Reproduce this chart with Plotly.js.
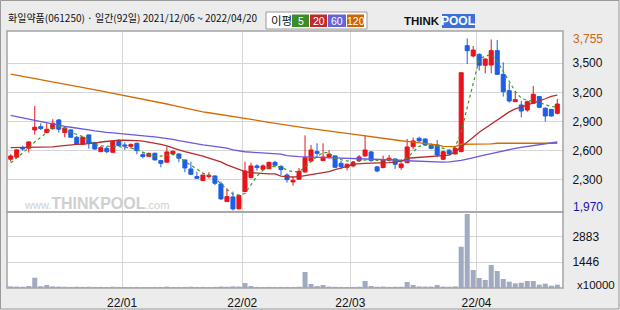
<!DOCTYPE html>
<html>
<head>
<meta charset="utf-8">
<script src="https://cdn.plot.ly/plotly-3.0.1.min.js"></script>
<style>
html,body{margin:0;padding:0;background:#ececec;}
#chart{width:620px;height:310px;}
</style>
</head>
<body>
<div id="chart"></div>
<script>
// ---- data (price in KRW, volume in x10000 shares) ----
const openP = [2513,2534,2632,2626,2814,2848,2787,2828,2917,2787,2814,2739,2667,2763,2684,2591,2625,2584,2701,2660,2646,2677,2560,2543,2574,2499,2482,2567,2567,2506,2413,2334,2293,2334,2341,2259,2077,2125,2002,2180,2324,2444,2410,2416,2481,2437,2351,2279,2307,2382,2495,2591,2499,2536,2547,2471,2430,2444,2499,2547,2588,2434,2427,2502,2516,2427,2478,2642,2728,2721,2660,2660,2512,2601,2567,2591,3681,3575,3592,3479,3482,3630,3386,3218,3105,3071,3019,3088,3157,3037,3026,2985];
const highP = [2565,2615,2653,2698,3061,2883,2883,2924,2927,2848,2824,2752,2745,2766,2694,2649,2649,2700,2721,2687,2677,2684,2591,2584,2581,2506,2642,2601,2574,2506,2488,2385,2351,2379,2348,2283,2214,2180,2146,2488,2478,2461,2461,2488,2495,2454,2368,2331,2423,2759,2660,2677,2677,2608,2553,2495,2471,2495,2557,2759,2598,2444,2550,2557,2519,2482,2721,2735,2745,2728,2677,2711,2601,2608,2642,3403,3755,3677,3602,3551,3745,3739,3510,3294,3215,3112,3115,3266,3164,3047,3030,3133];
const lowP  = [2488,2523,2601,2581,2766,2814,2780,2814,2787,2739,2735,2660,2660,2622,2608,2591,2574,2581,2643,2608,2625,2564,2523,2536,2499,2430,2478,2553,2482,2379,2351,2314,2293,2314,2245,2094,2077,1985,2002,2173,2317,2396,2403,2410,2430,2351,2272,2241,2300,2375,2482,2529,2495,2519,2423,2410,2396,2430,2488,2540,2488,2379,2420,2488,2413,2403,2471,2615,2694,2649,2615,2533,2506,2557,2564,2584,3492,3561,3424,3396,3396,3379,3157,3095,3105,2944,3002,3081,3037,2900,2951,2975];
const closeP= [2547,2609,2619,2691,2842,2828,2821,2883,2822,2835,2739,2667,2739,2678,2619,2632,2591,2694,2653,2649,2663,2601,2540,2571,2506,2471,2588,2595,2523,2423,2358,2317,2351,2348,2266,2105,2128,2002,2139,2392,2444,2427,2444,2481,2451,2406,2303,2296,2389,2529,2608,2574,2536,2564,2430,2437,2461,2478,2536,2608,2499,2392,2506,2523,2461,2464,2639,2701,2701,2660,2625,2557,2591,2567,2622,3403,3630,3636,3479,3544,3630,3386,3208,3112,3126,3009,3105,3181,3047,2958,2958,3081];
const volume = [90,80,70,110,578,100,168,90,80,70,60,70,60,70,60,60,50,70,60,50,50,60,50,50,60,60,80,50,50,60,70,60,60,50,60,80,70,90,80,280,110,60,50,60,50,60,60,50,70,898,224,110,168,80,70,60,50,60,70,393,110,70,80,60,70,70,337,168,90,80,80,168,80,70,90,2318,4150,1010,561,449,1290,954,505,355,262,299,393,393,187,243,131,187];
// moving averages
const ma5   = [2475,2525,2580,2630,2690,2740,2790,2835,2850,2830,2790,2770,2745,2710,2665,2650,2650,2648,2643,2635,2628,2610,2585,2560,2545,2545,2555,2565,2530,2490,2450,2410,2370,2350,2320,2260,2200,2155,2145,2160,2250,2340,2400,2435,2440,2435,2400,2385,2385,2430,2490,2540,2580,2580,2520,2505,2495,2488,2492,2505,2508,2500,2510,2505,2495,2505,2523,2590,2645,2660,2655,2643,2625,2608,2640,2790,3045,3300,3540,3575,3590,3520,3420,3310,3210,3140,3118,3110,3100,3072,3056,3050];
const ma20  = [2633,2633,2633,2633,2633,2633,2635,2640,2648,2655,2660,2665,2668,2672,2678,2690,2698,2705,2708,2708,2708,2705,2700,2690,2678,2665,2650,2626,2608,2591,2578,2564,2545,2525,2506,2485,2455,2432,2410,2386,2375,2369,2365,2362,2362,2340,2334,2330,2334,2345,2355,2362,2372,2385,2405,2420,2440,2462,2470,2471,2472,2472,2474,2478,2485,2490,2523,2528,2533,2538,2545,2548,2552,2556,2590,2643,2690,2740,2790,2832,2880,2925,2965,3000,3030,3048,3070,3092,3112,3135,3160,3172];
const ma60  = [2965,2955,2938,2925,2912,2900,2885,2870,2860,2850,2842,2835,2825,2815,2805,2795,2790,2785,2780,2775,2768,2760,2755,2748,2742,2735,2728,2718,2705,2692,2680,2670,2660,2652,2645,2638,2626,2610,2598,2590,2585,2580,2576,2572,2568,2566,2550,2542,2540,2537,2535,2533,2530,2530,2529,2527,2525,2524,2522,2520,2518,2518,2516,2512,2505,2500,2497,2493,2490,2488,2485,2483,2483,2485,2490,2500,2515,2530,2548,2557,2570,2585,2598,2612,2625,2635,2645,2655,2662,2670,2684,2690];
const ma120 = [3388,3376,3365,3353,3342,3330,3319,3307,3296,3284,3273,3261,3250,3238,3227,3215,3204,3192,3181,3169,3158,3146,3135,3123,3109,3095,3081,3067,3053,3039,3025,3010,3001,2991,2982,2973,2963,2954,2944,2935,2924,2914,2903,2892,2882,2871,2860,2850,2843,2836,2828,2821,2814,2805,2796,2787,2778,2769,2760,2751,2742,2733,2724,2715,2709,2703,2697,2690,2684,2678,2672,2660,2646,2643,2643,2667,2667,2667,2667,2667,2670,2677,2677,2677,2677,2677,2677,2677,2677,2677,2677,2677];
const monthLabels = ['22/01','22/02','22/03','22/04'];
const monthStartIdx = [19,39,57,78];
const priceTicks = [2300,2600,2900,3200,3500];
const volTicks = [1446,2883];
const maxPriceLabel = '3,755';
const minPriceLabel = '1,970';
const title = '화일약품(061250) · 일간(92일) 2021/12/06 ~ 2022/04/20';

// ---- layout helpers (pixel -> paper) ----
const W = 620, H = 310, ML = 7, MR = 57, MT = 31, MB = 22;
const PW = W - ML - MR, PH = H - MT - MB;
const px = v => (v - ML) / PW;
const py = v => (H - MB - v) / PH;
const split = py(212);

const idx = closeP.map((_, i) => i);
const fmt = v => v.toLocaleString('en-US');

const RED = '#e8141c', BLUE = '#1c5fe6';
const traces = [
  {type:'candlestick', x: idx, open: openP, high: highP, low: lowP, close: closeP,
   xaxis:'x', yaxis:'y', whiskerwidth:0,
   increasing:{line:{color:RED, width:1}, fillcolor:RED},
   decreasing:{line:{color:BLUE, width:1}, fillcolor:BLUE},
   showlegend:false, hoverinfo:'skip'},
  {type:'scatter', mode:'lines', x: idx, y: ma120, xaxis:'x', yaxis:'y', line:{color:'#d46a00', width:1.3}, showlegend:false},
  {type:'scatter', mode:'lines', x: idx, y: ma60, xaxis:'x', yaxis:'y', line:{color:'#6a58e0', width:1.3}, showlegend:false},
  {type:'scatter', mode:'lines', x: idx, y: ma20, xaxis:'x', yaxis:'y', line:{color:'#b82c2c', width:1.3}, showlegend:false},
  {type:'scatter', mode:'lines', x: idx, y: ma5, xaxis:'x', yaxis:'y', line:{color:'#3c9a24', width:1.2, dash:'dot'}, showlegend:false},
  {type:'bar', x: idx, y: volume, xaxis:'x', yaxis:'y2', marker:{color:'#a2aac2', line:{width:0}}, width:0.84, showlegend:false}
];

const tickFont = {family:'"Liberation Sans", Arial, sans-serif', size:12, color:'#111'};
const boxes = [
  {x0:292, x1:309, c:'#3c8c28', t:'5'},
  {x0:310, x1:327, c:'#c0282a', t:'20'},
  {x0:328, x1:346, c:'#6464d8', t:'60'},
  {x0:347, x1:364, c:'#d06400', t:'120'}
];

const shapes = [
  {type:'rect', xref:'paper', yref:'paper', x0:px(0.5), x1:px(619), y0:py(309), y1:py(0.5), line:{color:'#9a9a9a', width:1}, layer:'below'},
  {type:'rect', xref:'paper', yref:'paper', x0:0, x1:1, y0:split, y1:1, line:{color:'#a4a4a4', width:1.5}},
  {type:'rect', xref:'paper', yref:'paper', x0:0, x1:1, y0:0, y1:split, line:{color:'#a4a4a4', width:1.5}},
  {type:'rect', xref:'paper', yref:'paper', x0:px(266), x1:px(367), y0:py(29), y1:py(12), fillcolor:'#ffffff', line:{color:'#9a9a9a', width:1}},
  {type:'rect', xref:'paper', yref:'paper', x0:px(442), x1:px(475), y0:py(28), y1:py(14), fillcolor:'#3a70d8', line:{width:0}}
];
boxes.forEach(b => shapes.push({type:'rect', xref:'paper', yref:'paper', x0:px(b.x0), x1:px(b.x1), y0:py(27), y1:py(14.5), fillcolor:b.c, line:{width:0}}));

const annotations = [
  {xref:'paper', yref:'paper', x:px(6), y:py(18), xanchor:'left', yanchor:'middle', showarrow:false,
   text:title, font:{family:'"Noto Sans CJK KR", sans-serif', size:10, color:'#111'}},
  {xref:'paper', yref:'paper', x:px(269), y:py(20.5), xanchor:'left', yanchor:'middle', showarrow:false,
   text:'이평', font:{family:'"Noto Sans CJK KR", sans-serif', size:11.5, color:'#111'}},
  {xref:'paper', yref:'paper', x:px(442), y:py(21), xanchor:'right', yanchor:'middle', showarrow:false,
   text:'<b>THINK</b>', font:{family:'"Liberation Sans", Arial, sans-serif', size:11.5, color:'#111'}},
  {xref:'paper', yref:'paper', x:px(458.5), y:py(21), xanchor:'center', yanchor:'middle', showarrow:false,
   text:'<b>POOL</b>', font:{family:'"Liberation Sans", Arial, sans-serif', size:12, color:'#ffffff'}},
  {xref:'paper', yref:'paper', x:px(22), y:py(203), xanchor:'left', yanchor:'middle', showarrow:false,
   text:'www.<span style="font-size:16px;font-weight:bold">THINKPOOL</span>.com',
   font:{family:'"Liberation Sans", Arial, sans-serif', size:11, color:'#cfcfcf'}},
  {xref:'paper', yref:'paper', x:px(571), y:py(38.5), xanchor:'left', yanchor:'middle', showarrow:false,
   text:maxPriceLabel, font:Object.assign({}, tickFont, {color:'#c8661a'})},
  {xref:'paper', yref:'paper', x:px(571), y:py(207), xanchor:'left', yanchor:'middle', showarrow:false,
   text:minPriceLabel, font:Object.assign({}, tickFont, {color:'#1414b4'})},
  {xref:'paper', yref:'paper', x:px(575), y:py(285), xanchor:'left', yanchor:'middle', showarrow:false,
   text:'x10000', font:Object.assign({}, tickFont, {size:11.5})}
];
boxes.forEach(b => annotations.push({xref:'paper', yref:'paper', x:px((b.x0 + b.x1) / 2), y:py(21), xanchor:'center', yanchor:'middle', showarrow:false,
  text:b.t, font:{family:'"Liberation Sans", Arial, sans-serif', size:10.5, color:'#ffffff'}}));

const layout = {
  width:W, height:H,
  margin:{l:ML, r:MR, t:MT, b:MB, pad:0},
  paper_bgcolor:'#ececec', plot_bgcolor:'#ffffff',
  showlegend:false, boxgap:0.04,
  xaxis:{range:[-0.62, 91.95], anchor:'y2', tickvals: monthStartIdx.map(v => v - 0.45), ticktext: monthLabels,
         showgrid:true, gridcolor:'#d6d6d6', gridwidth:1, zeroline:false, showline:false,
         ticks:'outside', ticklen:4, tickcolor:'rgba(0,0,0,0)', tickfont:tickFont,
         rangeslider:{visible:false}, fixedrange:true},
  yaxis:{domain:[split, 1], range:[1970, 3832], side:'right', anchor:'x', tickvals: priceTicks, ticktext: priceTicks.map(fmt),
         showgrid:true, gridcolor:'#d6d6d6', gridwidth:1, zeroline:false, showline:false,
         ticks:'outside', ticklen:6, tickcolor:'rgba(0,0,0,0)', tickfont:tickFont},
  yaxis2:{domain:[0, split], range:[0, 4264], side:'right', anchor:'x', tickvals: volTicks, ticktext: volTicks.map(String),
         showgrid:true, gridcolor:'#d6d6d6', gridwidth:1, zeroline:false, showline:false,
         ticks:'outside', ticklen:6, tickcolor:'rgba(0,0,0,0)', tickfont:tickFont},
  shapes: shapes,
  annotations: annotations
};

Plotly.newPlot('chart', traces, layout, {staticPlot:true, displayModeBar:false});
</script>
</body>
</html>
